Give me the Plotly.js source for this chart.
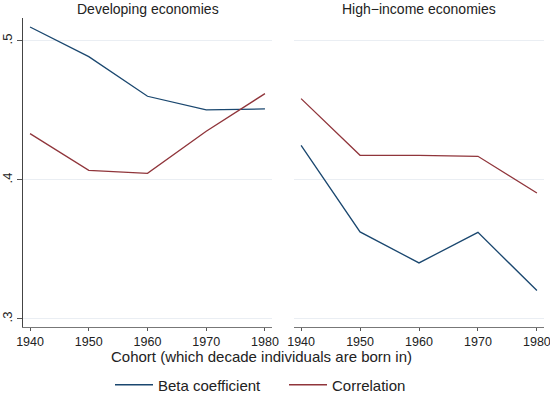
<!DOCTYPE html>
<html>
<head>
<meta charset="utf-8">
<script src="https://cdn.plot.ly/plotly-3.0.1.min.js"></script>
<style>html,body{margin:0;padding:0;background:#fff;}#chart{width:550px;height:399px;}</style>
</head>
<body>
<div id="chart"></div>
<script>
const cohorts = [1940, 1950, 1960, 1970, 1980];
const devBeta = [0.510, 0.4887, 0.4602, 0.4504, 0.4511];
const devCorr = [0.4333, 0.4069, 0.4047, 0.4350, 0.4621];
const highBeta = [0.4249, 0.3626, 0.3403, 0.3623, 0.3204];
const highCorr = [0.4585, 0.4177, 0.4177, 0.4170, 0.3906];
const yTickVals = [0.3, 0.4, 0.5];
const yTickText = ['.3', '.4', '.5'];
const panelTitles = ['Developing economies', 'High\u2212income economies'];
const seriesNames = ['Beta coefficient', 'Correlation'];
const xTitle = 'Cohort (which decade individuals are born in)';

const blue = '#1a476f', red = '#90353b';
const font = 'Liberation Sans, Arial, Helvetica, sans-serif';

const traces = [
  {x: cohorts, y: devBeta, type: 'scatter', mode: 'lines', name: seriesNames[0], line: {color: blue, width: 1.3}, xaxis: 'x', yaxis: 'y', legendgroup: 'b'},
  {x: cohorts, y: devCorr, type: 'scatter', mode: 'lines', name: seriesNames[1], line: {color: red, width: 1.3}, xaxis: 'x', yaxis: 'y', legendgroup: 'c'},
  {x: cohorts, y: highBeta, type: 'scatter', mode: 'lines', name: seriesNames[0], line: {color: blue, width: 1.3}, xaxis: 'x2', yaxis: 'y2', showlegend: false, legendgroup: 'b'},
  {x: cohorts, y: highCorr, type: 'scatter', mode: 'lines', name: seriesNames[1], line: {color: red, width: 1.3}, xaxis: 'x2', yaxis: 'y2', showlegend: false, legendgroup: 'c'}
];

const xr = [1938.8, 1981.2];
const yr = [0.2942, 0.5165];
const xcommon = {
  range: xr, tickvals: cohorts, ticktext: cohorts.map(String),
  ticks: 'outside', ticklen: 3, tickcolor: '#555', tickwidth: 1,
  showline: true, linecolor: '#777', linewidth: 1,
  showgrid: false, zeroline: false, ticklabeloverflow: 'allow',
  tickfont: {family: font, size: 12.5, color: '#222'}
};
const layout = {
  width: 550, height: 399,
  margin: {l: 0, r: 0, t: 18, b: 72, pad: 0},
  paper_bgcolor: '#fff', plot_bgcolor: '#fff',
  font: {family: font, color: '#222'},
  xaxis: Object.assign({}, xcommon, {domain: [23/550, 272/550], anchor: 'y'}),
  xaxis2: Object.assign({}, xcommon, {domain: [294/550, 544/550], anchor: 'y2'}),
  yaxis: {
    domain: [0, 1], range: yr, tickvals: yTickVals, ticktext: yTickText,
    ticks: 'outside', ticklen: 5, tickcolor: '#555', tickangle: -90,
    showline: true, linecolor: '#444', linewidth: 1,
    showgrid: true, gridcolor: '#eaeef3', gridwidth: 1, zeroline: false,
    tickfont: {family: font, size: 13, color: '#222'}, anchor: 'x'
  },
  yaxis2: {
    domain: [0, 1], range: yr, tickvals: yTickVals, showticklabels: false,
    ticks: '', showline: false,
    showgrid: true, gridcolor: '#eaeef3', gridwidth: 1, zeroline: false, anchor: 'x2'
  },
  showlegend: true,
  legend: {
    orientation: 'h', xref: 'paper', yref: 'container',
    x: 110/550, xanchor: 'left', y: 1 - 385/399, yanchor: 'middle',
    font: {family: font, size: 15, color: '#222'},
    bgcolor: 'rgba(0,0,0,0)', itemwidth: 38, entrywidth: 121, tracegroupgap: 0
  },
  annotations: [
    {text: panelTitles[0], xref: 'paper', yref: 'paper', x: 147.5/550, y: (327-9)/309, xanchor: 'center', yanchor: 'middle', showarrow: false, font: {family: font, size: 14, color: '#222'}},
    {text: panelTitles[1], xref: 'paper', yref: 'paper', x: 419/550, y: (327-9)/309, xanchor: 'center', yanchor: 'middle', showarrow: false, font: {family: font, size: 14, color: '#222'}},
    {text: xTitle, xref: 'paper', yref: 'paper', x: 261/550, y: (327-356)/309, xanchor: 'center', yanchor: 'middle', showarrow: false, font: {family: font, size: 15, color: '#222'}}
  ]
};
Plotly.newPlot('chart', traces, layout, {displayModeBar: false, staticPlot: true});
</script>
</body>
</html>
